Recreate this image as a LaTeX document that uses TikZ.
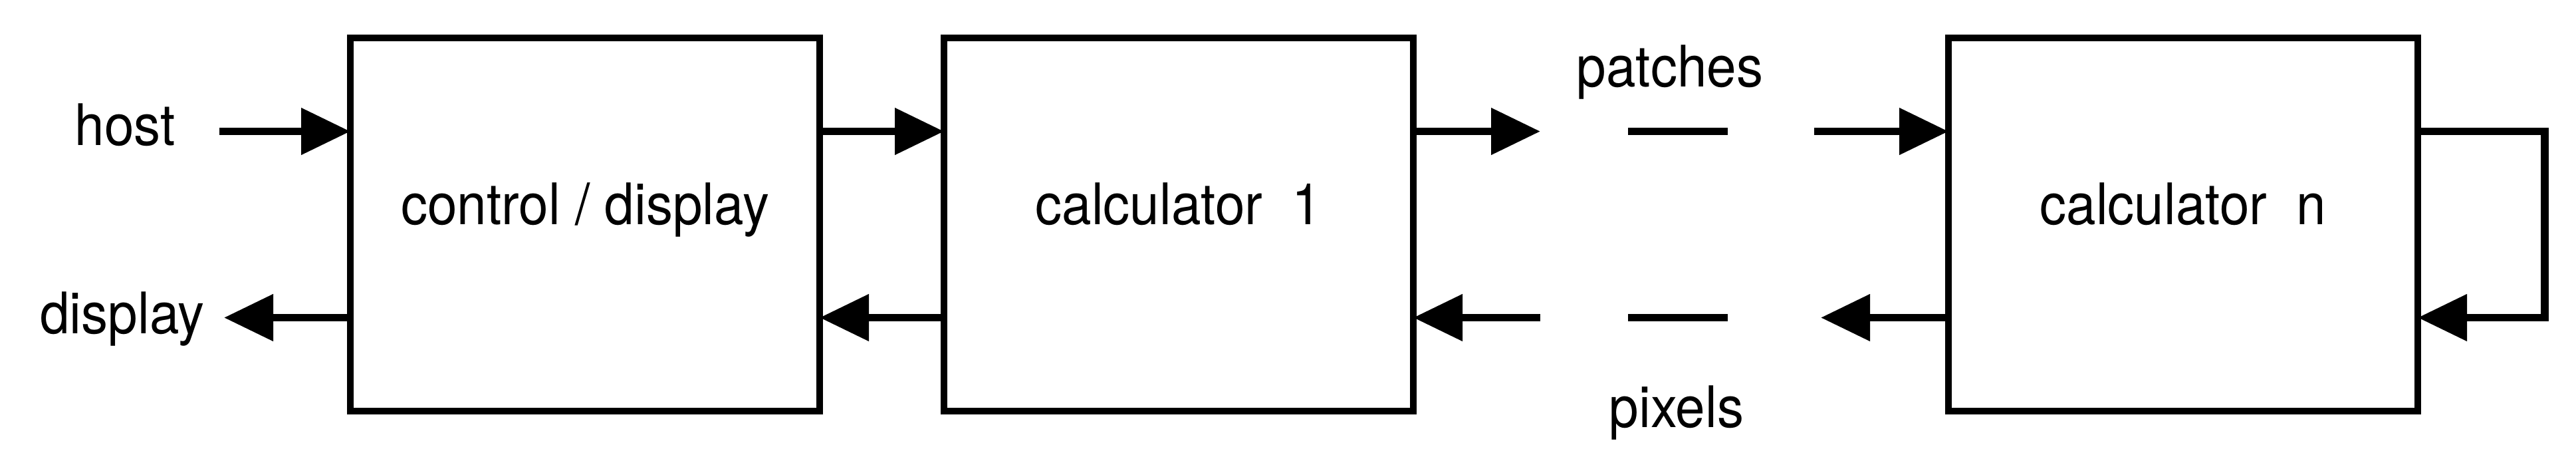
\documentclass[tikz,border=0pt]{standalone}
\usepackage{fontspec}
\setmainfont[FakeStretch=0.93]{TeX Gyre Heros}
\usepackage{tikz}
\usetikzlibrary{positioning, arrows.meta}

\tikzset{
  unitbox/.style={draw, line width=2.9pt, minimum width=7.06cm, minimum height=5.61cm,
    outer sep=0pt, inner sep=0pt, text height=0.5cm, text depth=0.5cm},
  flow/.style={line width=3.3pt, -{Triangle[length=7.4mm, width=6.8mm]}},
  gapline/.style={line width=3.3pt},
  lbl/.style={inner sep=0pt, anchor=base}
}

\begin{document}
\begin{tikzpicture}[font=\fontsize{24.5}{29}\selectfont]
    \useasboundingbox (0,0) rectangle (38.75,6.92);
    \def\dy{1.40}

    % --- 1. the three boxes ---
    \node[unitbox] (ctrl) at (8.80,3.545) {control / display};
    \node[unitbox, right=1.87cm of ctrl] (calc1) {calculator~~1};
    \node[unitbox, right=8.05cm of calc1] (calcn) {calculator~~n};

    % --- 2. free ends of the connectors ---
    \coordinate (hostend) at (3.30,3.545+\dy);
    \coordinate (dispend) at (3.37,3.545-\dy);
    \coordinate (patchout) at (23.17,3.545+\dy);
    \coordinate (pixin) at (23.17,3.545-\dy);
    \coordinate (patchin) at (27.29,3.545+\dy);
    \coordinate (pixout) at (27.39,3.545-\dy);

    % --- 3. outside labels ---
    \node[lbl] (host) at (1.88,4.74) {host};
    \node[lbl] (display) at (1.84,1.91) {display};
    \node[lbl] (patches) at (25.12,5.62) {patches};
    \node[lbl] (pixels) at (25.22,0.50) {pixels};

    % --- 4. connectors ---
    \draw[flow] (hostend) -- (hostend -| ctrl.west);
    \draw[flow] (ctrl.west |- dispend) -- (dispend);
    \draw[flow] ([yshift=\dy cm]ctrl.east) -- ([yshift=\dy cm]calc1.west);
    \draw[flow] ([yshift=-\dy cm]calc1.west) -- ([yshift=-\dy cm]ctrl.east);
    \draw[flow] (calc1.east |- patchout) -- (patchout);
    \draw[flow] (pixin) -- (pixin -| calc1.east);
    \draw[flow] (patchin) -- (patchin -| calcn.west);
    \draw[flow] (calcn.west |- pixout) -- (pixout);
    % loop back on the last calculator
    \draw[flow] ([yshift=\dy cm]calcn.east) -- ++(1.91,0) |- ([yshift=-\dy cm]calcn.east);

    % --- 5. the gaps in the chain ---
    \draw[gapline] (24.49,3.545+\dy) -- (25.99,3.545+\dy);
    \draw[gapline] (24.49,3.545-\dy) -- (25.99,3.545-\dy);
\end{tikzpicture}
\end{document}
